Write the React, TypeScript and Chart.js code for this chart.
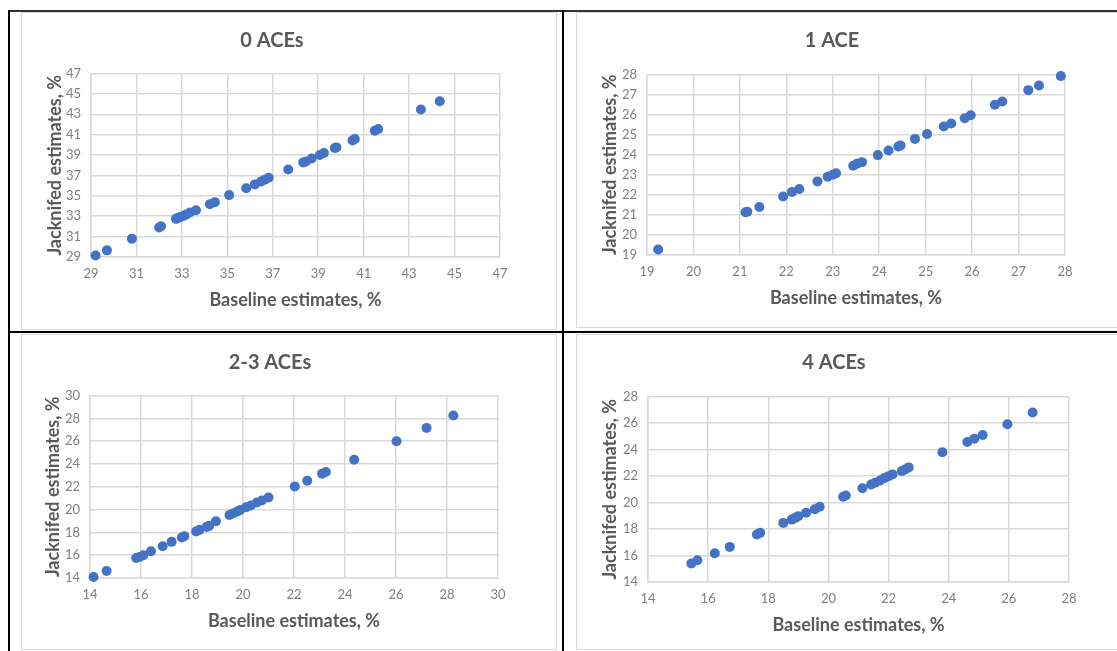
import React, { useEffect, useRef } from 'react';
import { Chart, registerables } from 'chart.js';

Chart.register(...registerables);

// ---------- data ----------
const panelTitles = ['0 ACEs', '1 ACE', '2-3 ACEs', '4 ACEs'];
const xAxisTitle = 'Baseline estimates, %';
const yAxisTitle = 'Jacknifed estimates, %';

const ace0Baseline = [29.2, 29.7, 30.8, 32.0, 32.08, 32.74, 32.84, 32.94, 33.06, 33.18, 33.35, 33.62, 34.23, 34.45, 35.08, 35.83, 36.21, 36.48, 36.65, 36.82, 37.68, 38.34, 38.46, 38.71, 39.07, 39.25, 39.73, 39.8, 40.51, 40.61, 41.49, 41.64, 43.52, 44.35];
const ace0Jackknifed = [29.15, 29.65, 30.8, 31.9, 32.02, 32.74, 32.84, 32.93, 33.03, 33.16, 33.36, 33.59, 34.18, 34.38, 35.07, 35.75, 36.11, 36.41, 36.57, 36.77, 37.59, 38.28, 38.38, 38.67, 39.0, 39.2, 39.69, 39.75, 40.44, 40.57, 41.39, 41.56, 43.46, 44.28];

const ace1Baseline = [19.24, 21.12, 21.16, 21.42, 21.93, 22.12, 22.28, 22.67, 22.89, 23.0, 23.07, 23.44, 23.52, 23.63, 23.97, 24.2, 24.41, 24.46, 24.77, 25.03, 25.39, 25.55, 25.84, 25.97, 26.49, 26.65, 27.21, 27.44, 27.91];
const ace1Jackknifed = [19.27, 21.13, 21.16, 21.39, 21.92, 22.14, 22.29, 22.67, 22.9, 23.0, 23.08, 23.45, 23.55, 23.63, 23.98, 24.21, 24.41, 24.46, 24.79, 25.03, 25.41, 25.56, 25.82, 25.97, 26.49, 26.65, 27.22, 27.45, 27.92];

const ace23Baseline = [14.14, 14.65, 15.81, 15.94, 16.09, 16.39, 16.85, 17.2, 17.6, 17.7, 18.16, 18.29, 18.58, 18.67, 18.94, 19.47, 19.62, 19.78, 19.89, 20.12, 20.31, 20.54, 20.74, 21.0, 22.03, 22.52, 23.1, 23.25, 24.36, 26.02, 27.2, 28.25];
const ace23Jackknifed = [14.09, 14.62, 15.76, 15.85, 16.0, 16.35, 16.79, 17.17, 17.55, 17.67, 18.08, 18.22, 18.48, 18.57, 18.98, 19.53, 19.68, 19.84, 19.96, 20.2, 20.35, 20.62, 20.79, 21.06, 22.03, 22.53, 23.15, 23.3, 24.37, 25.99, 27.16, 28.24];

const ace4Baseline = [15.44, 15.64, 16.22, 16.72, 17.62, 17.73, 18.5, 18.78, 18.9, 19.0, 19.26, 19.55, 19.71, 20.49, 20.58, 21.13, 21.42, 21.55, 21.72, 21.86, 22.0, 22.13, 22.44, 22.55, 22.67, 23.79, 24.62, 24.85, 25.13, 25.95, 26.79];
const ace4Jackknifed = [15.39, 15.64, 16.17, 16.65, 17.58, 17.71, 18.46, 18.71, 18.84, 18.97, 19.22, 19.5, 19.68, 20.43, 20.53, 21.08, 21.36, 21.49, 21.66, 21.84, 21.99, 22.12, 22.38, 22.5, 22.65, 23.79, 24.57, 24.82, 25.1, 25.91, 26.79];

// axis ranges: [min, max, step]
const ace0Axis = [29, 47, 2];
const ace1Axis = [19, 28, 1];
const ace23Axis = [14, 30, 2];
const ace4Axis = [14, 28, 2];

// ---------- styles ----------
const FONT = 'Lato, "Open Sans", sans-serif';
const TITLE_COLOR = '#595959';
const TICK_COLOR = '#7f7f7f';
const GRID_COLOR = '#d9d9d9';
const POINT_COLOR = '#4472C4';
const RIGHT_PAD = 20;

type Spec = {
  title: string;
  xs: number[];
  ys: number[];
  axis: number[];
  left: number;
  top: number;
  width: number;
  height: number;
  yAxisWidth: number;
  padTop: number;
  padBottom: number;
};

// width = distance from y-axis-box left edge to plot right edge
const specs: Spec[] = [
  { title: panelTitles[0], xs: ace0Baseline, ys: ace0Jackknifed, axis: ace0Axis, left: 44, top: 12, width: 456, height: 305, yAxisWidth: 47, padTop: 16.5, padBottom: 21 },
  { title: panelTitles[1], xs: ace1Baseline, ys: ace1Jackknifed, axis: ace1Axis, left: 599, top: 12, width: 466, height: 303, yAxisWidth: 48, padTop: 16.5, padBottom: 22 },
  { title: panelTitles[2], xs: ace23Baseline, ys: ace23Jackknifed, axis: ace23Axis, left: 42, top: 334, width: 456, height: 304, yAxisWidth: 48, padTop: 16.5, padBottom: 21 },
  { title: panelTitles[3], xs: ace4Baseline, ys: ace4Jackknifed, axis: ace4Axis, left: 599, top: 334, width: 470, height: 308, yAxisWidth: 49, padTop: 17, padBottom: 21.5 },
];

function Panel({ spec }: { spec: Spec }) {
  const ref = useRef<HTMLCanvasElement>(null);
  useEffect(() => {
    if (!ref.current) return;
    const [min, max, step] = spec.axis;
    const gridOpts = { color: GRID_COLOR, lineWidth: 1.5, drawTicks: false };
    const tickFont = { family: FONT, size: 13 };
    const axisTitleFont = { family: FONT, size: 18, weight: 'bold' as const, lineHeight: 1.2 };
    const chart = new Chart(ref.current, {
      type: 'scatter',
      data: {
        datasets: [
          {
            data: spec.xs.map((x, i) => ({ x, y: spec.ys[i] })),
            backgroundColor: POINT_COLOR,
            borderColor: POINT_COLOR,
            borderWidth: 0,
            pointRadius: 5,
            pointHoverRadius: 5,
            clip: false as any,
          },
        ],
      },
      options: {
        responsive: false,
        animation: false,
        devicePixelRatio: 1,
        layout: { padding: { left: 0, top: 0, bottom: 0, right: RIGHT_PAD } },
        plugins: {
          legend: { display: false },
          tooltip: { enabled: false },
          title: {
            display: true,
            text: spec.title,
            color: TITLE_COLOR,
            font: { family: FONT, size: 20, weight: 'bold', lineHeight: 1.2 },
            padding: { top: spec.padTop, bottom: spec.padBottom },
          },
        },
        scales: {
          x: {
            type: 'linear',
            min,
            max,
            ticks: { stepSize: step, color: TICK_COLOR, font: tickFont, padding: 9, maxRotation: 0, autoSkip: false },
            grid: gridOpts,
            border: { color: GRID_COLOR, width: 1.5 },
            title: { display: true, text: xAxisTitle, color: TITLE_COLOR, font: axisTitleFont, padding: { top: 0, bottom: 6 } },
            afterFit: (s: any) => {
              s.height = 60;
              s.paddingLeft = 0;
              s.paddingRight = 0;
            },
          },
          y: {
            type: 'linear',
            min,
            max,
            ticks: { stepSize: step, color: TICK_COLOR, font: tickFont, padding: 10, autoSkip: false },
            grid: gridOpts,
            border: { color: GRID_COLOR, width: 1.5 },
            title: { display: true, text: yAxisTitle, color: TITLE_COLOR, font: axisTitleFont, padding: { top: 0, bottom: 0 } },
            afterFit: (s: any) => {
              s.width = spec.yAxisWidth;
              s.paddingTop = 0;
              s.paddingBottom = 0;
            },
          },
        },
      },
    });
    return () => chart.destroy();
  }, [spec]);
  const w = spec.width + RIGHT_PAD;
  return (
    <canvas
      ref={ref}
      width={w}
      height={spec.height}
      style={{ position: 'absolute', left: spec.left, top: spec.top, width: w, height: spec.height }}
    />
  );
}

const line = (left: number, top: number, width: number, height: number, bg: string) => (
  <div style={{ position: 'absolute', left, top, width, height, background: bg }} />
);

const box = (left: number, top: number, width: number, height: number) => (
  <div
    style={{
      position: 'absolute',
      left,
      top,
      width,
      height,
      boxSizing: 'border-box',
      border: '1.5px solid #d9d9d9',
    }}
  />
);

export default function App() {
  return (
    <div style={{ position: 'absolute', left: 0, top: 0, width: 1117, height: 651, background: '#fff', overflow: 'hidden' }}>
      {box(21, 12, 536, 318)}
      {box(576, 12, 600, 316)}
      {box(21, 334, 536, 316)}
      {box(576, 334, 600, 316)}
      {specs.map((s, i) => (
        <Panel key={i} spec={s} />
      ))}
      {line(8, 10, 1109, 2, '#333')}
      {line(8, 10, 2, 641, '#000')}
      {line(562, 10, 2, 641, '#000')}
      {line(8, 331, 1109, 2, '#000')}
    </div>
  );
}
